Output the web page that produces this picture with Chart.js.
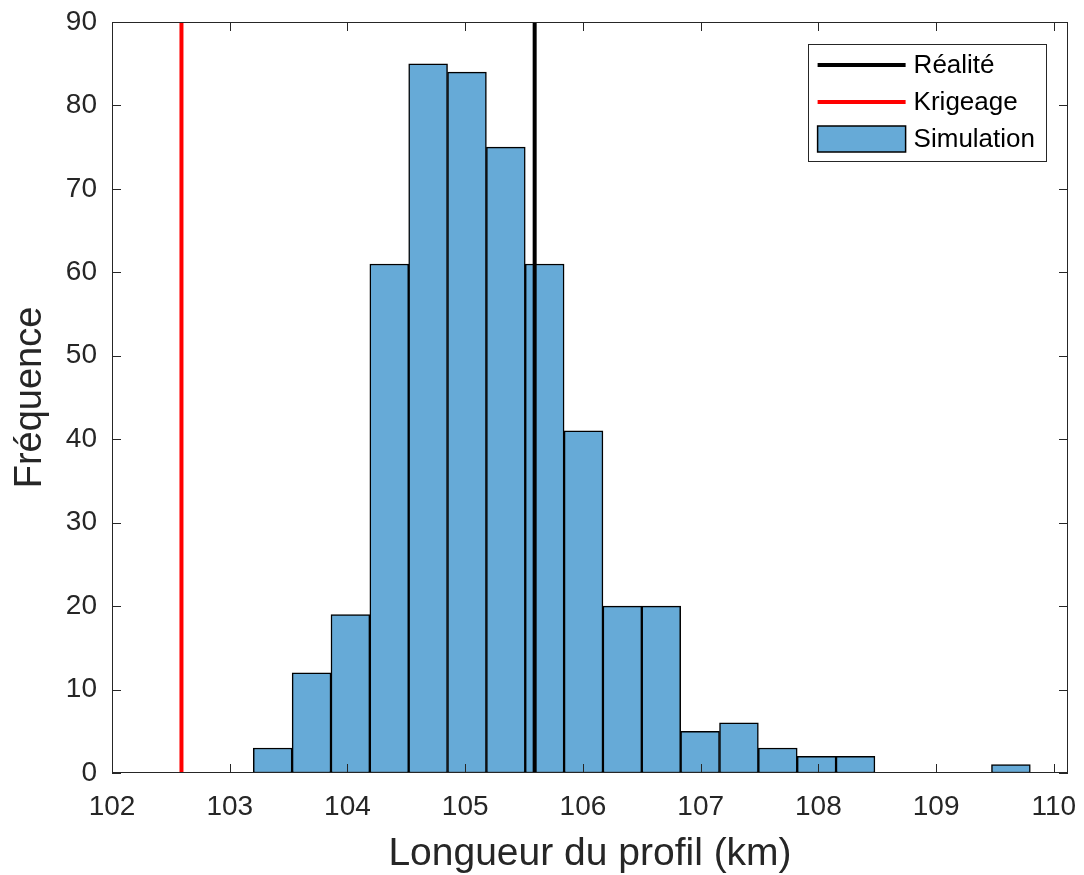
<!DOCTYPE html>
<html>
<head>
<meta charset="utf-8">
<script src="https://cdn.jsdelivr.net/npm/chart.js@4"></script>
<style>
body { margin: 0; background: #fff; }
</style>
</head>
<body>
<canvas id="myChart" width="1084" height="875"></canvas>
<script>
// histogram bins (centres, width 0.33 km) and counts
const binCenters = [103.365, 103.695, 104.025, 104.355, 104.685, 105.015, 105.345, 105.675, 106.005, 106.335,
                    106.665, 106.995, 107.325, 107.655, 107.985, 108.315, 108.645, 108.975, 109.305, 109.635];
const counts = [3, 12, 19, 61, 85, 84, 75, 61, 41, 20, 20, 5, 6, 3, 2, 2, 0, 0, 0, 1];

// reference lengths
const realite = 105.59;
const krigeage = 102.59;

const xTicks = [102, 103, 104, 105, 106, 107, 108, 109, 110];
const xRange = [102, 110.12];
const yRange = [0, 90];

const FONT = "'Liberation Sans', Arial, Helvetica, sans-serif";
const AXIS_COLOR = '#262626';
const BAR_COLOR = 'rgb(102, 170, 215)';

// MATLAB-like box with inward ticks on all four sides, plus the legend
const boxPlugin = {
    id: 'box',
    afterDraw(chart) {
        const { ctx, chartArea: a, scales } = chart;
        const tl = 9;
        ctx.save();
        ctx.strokeStyle = AXIS_COLOR;
        ctx.lineWidth = 1;
        ctx.beginPath();
        scales.x.ticks.forEach(t => {
            const px = Math.round(scales.x.getPixelForValue(t.value)) + 0.5;
            ctx.moveTo(px, a.bottom); ctx.lineTo(px, a.bottom - tl);
            ctx.moveTo(px, a.top); ctx.lineTo(px, a.top + tl);
        });
        scales.y.ticks.forEach(t => {
            const py = Math.round(scales.y.getPixelForValue(t.value)) + 0.5;
            ctx.moveTo(a.left, py); ctx.lineTo(a.left + tl, py);
            ctx.moveTo(a.right, py); ctx.lineTo(a.right - tl, py);
        });
        ctx.stroke();
        ctx.strokeRect(Math.round(a.left) + 0.5, Math.round(a.top) + 0.5,
                       Math.round(a.right - a.left) - 1, Math.round(a.bottom - a.top) - 1);

        // legend
        const items = [chart.data.datasets[1], chart.data.datasets[2], chart.data.datasets[0]];
        ctx.font = '26px ' + FONT;
        const textW = Math.max(...items.map(d => ctx.measureText(d.label).width));
        const rowH = 37, sampleW = 88, pad = 10;
        const w = pad + sampleW + 8 + textW + 11;
        const h = rowH * items.length + 6;
        const x0 = a.right - 22 - w, y0 = a.top + 22;
        ctx.fillStyle = '#fff';
        ctx.fillRect(x0, y0, w, h);
        ctx.strokeStyle = AXIS_COLOR;
        ctx.lineWidth = 1;
        ctx.strokeRect(Math.round(x0) + 0.5, y0 + 0.5, Math.round(w), h);
        items.forEach((d, i) => {
            const cy = y0 + 21 + i * rowH;
            const sx = x0 + pad;
            if (d.type === 'line') {
                ctx.strokeStyle = d.borderColor;
                ctx.lineWidth = 4;
                ctx.beginPath();
                ctx.moveTo(sx, cy); ctx.lineTo(sx + sampleW, cy);
                ctx.stroke();
            } else {
                ctx.fillStyle = d.backgroundColor;
                ctx.fillRect(sx, cy - 13, sampleW, 26);
                ctx.strokeStyle = '#000';
                ctx.lineWidth = 1.5;
                ctx.strokeRect(sx, cy - 13, sampleW, 26);
            }
            ctx.fillStyle = '#000';
            ctx.textBaseline = 'middle';
            ctx.textAlign = 'left';
            ctx.fillText(d.label, sx + sampleW + 8, cy + 1);
        });
        ctx.restore();
    }
};

const ctx = document.getElementById('myChart').getContext('2d');
const chart = new Chart(ctx, {
    type: 'bar',
    data: {
        datasets: [{
            type: 'bar',
            label: 'Simulation',
            data: binCenters.map((x, i) => ({ x: x, y: counts[i] })),
            backgroundColor: BAR_COLOR,
            borderColor: '#000',
            borderWidth: 1.5,
            borderSkipped: false,
            barPercentage: 1,
            categoryPercentage: 1,
            order: 2
        }, {
            type: 'line',
            label: 'Réalité',
            data: [{ x: realite, y: yRange[0] }, { x: realite, y: yRange[1] }],
            borderColor: '#000',
            borderWidth: 4,
            pointRadius: 0,
            order: 0
        }, {
            type: 'line',
            label: 'Krigeage',
            data: [{ x: krigeage, y: yRange[0] }, { x: krigeage, y: yRange[1] }],
            borderColor: '#ff0000',
            borderWidth: 4,
            pointRadius: 0,
            order: 1
        }]
    },
    options: {
        responsive: false,
        animation: false,
        layout: { padding: { top: 22, right: 16, left: 0, bottom: 0 } },
        plugins: {
            legend: { display: false },
            tooltip: { enabled: false }
        },
        scales: {
            x: {
                type: 'linear',
                min: xRange[0],
                max: xRange[1],
                offset: false,
                grid: { display: false, drawTicks: false, offset: false },
                border: { display: false },
                afterBuildTicks: s => { s.ticks = xTicks.map(v => ({ value: v })); },
                afterFit: s => {
                    s.height = 102;
                    s.paddingLeft = 0;
                    s.paddingRight = 0;
                },
                ticks: {
                    padding: 17,
                    color: AXIS_COLOR,
                    font: { family: FONT, size: 28 },
                    maxRotation: 0,
                    callback: v => String(v)
                },
                title: {
                    display: true,
                    text: 'Longueur du profil (km)',
                    color: AXIS_COLOR,
                    font: { family: FONT, size: 39 },
                    padding: { top: 0, bottom: -3 }
                }
            },
            y: {
                min: yRange[0],
                max: yRange[1],
                grid: { display: false, drawTicks: false },
                border: { display: false },
                afterFit: s => {
                    s.width = 112;
                    s.paddingTop = 0;
                    s.paddingBottom = 0;
                },
                ticks: {
                    stepSize: 10,
                    padding: 15,
                    color: AXIS_COLOR,
                    font: { family: FONT, size: 28 }
                },
                title: {
                    display: true,
                    text: 'Fréquence',
                    color: AXIS_COLOR,
                    font: { family: FONT, size: 38 },
                    padding: { top: 8, bottom: 0 }
                }
            }
        }
    },
    plugins: [boxPlugin]
});
</script>
</body>
</html>
